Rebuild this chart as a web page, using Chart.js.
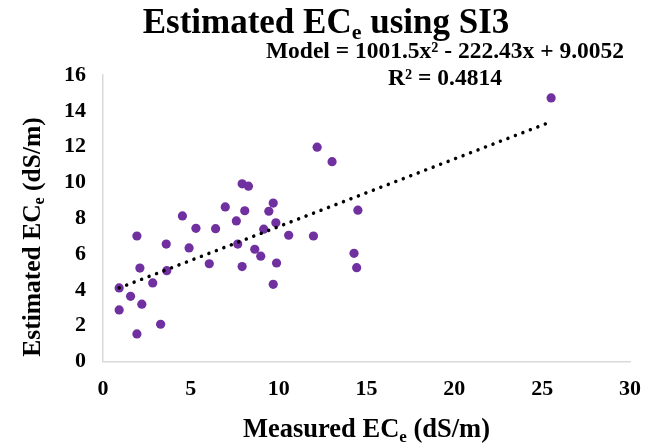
<!DOCTYPE html>
<html>
<head>
<meta charset="utf-8">
<script src="https://cdn.jsdelivr.net/npm/chart.js@4"></script>
<style>
  html, body { margin: 0; padding: 0; background: #fff; }
  #wrap { width: 659px; height: 448px; }
</style>
</head>
<body>
<div id="wrap"><canvas id="chart"></canvas></div>
<script>
// values
const measuredEC = [0.92, 0.92, 1.57, 1.93, 2.10, 2.21, 1.93, 2.83, 3.28, 3.60,
  3.63, 4.52, 4.90, 5.29, 6.05, 6.41, 6.96, 7.59, 7.67, 7.92,
  8.28, 8.07, 7.92, 8.64, 8.98, 9.15, 9.44, 9.69, 9.84, 9.88,
  9.69, 10.57, 11.98, 12.19, 13.04, 14.51, 14.29, 14.44, 25.51];
const estimatedEC = [4.11, 2.88, 3.64, 7.01, 5.22, 3.20, 1.54, 4.39, 2.08, 6.56,
  5.07, 8.13, 6.34, 7.44, 5.46, 7.42, 8.63, 7.85, 6.56, 9.92,
  9.79, 8.42, 5.30, 6.27, 5.88, 7.39, 8.39, 8.85, 7.75, 5.50,
  4.31, 7.05, 7.01, 11.97, 11.16, 8.45, 6.04, 5.24, 14.72];
const trendX = [0.92, 25.19];
const trendY = [4.11, 13.27];

const titleText = [['Estimated EC', ''], ['e', 'sub'], [' using SI3', '']];
const modelText = [['Model = 1001.5x\u00b2 - 222.43x + 9.0052', '']];
const r2Text = [['R\u00b2 = 0.4814', '']];
const xTitle = [['Measured EC', ''], ['e', 'sub'], [' (dS/m)', '']];
const yTitle = [['Estimated EC', ''], ['e', 'sub'], [' (dS/m)', '']];

const serif = "'Liberation Serif', 'Times New Roman', serif";

function toPoints(xs, ys) {
  return xs.map((x, i) => ({ x: x, y: ys[i] }));
}

// draws text pieces, subscripts smaller and lower, centred on x
function drawRich(ctx, parts, x, y, size) {
  const fontFor = (mode) => 'bold ' + (mode === 'sub' ? Math.round(size * 0.63) : size) + 'px ' + serif;
  let total = 0;
  parts.forEach(([t, mode]) => {
    ctx.font = fontFor(mode);
    total += ctx.measureText(t).width;
  });
  let cx = x - total / 2;
  ctx.textAlign = 'left';
  ctx.textBaseline = 'alphabetic';
  ctx.fillStyle = '#000';
  parts.forEach(([t, mode]) => {
    ctx.font = fontFor(mode);
    ctx.fillText(t, cx, mode === 'sub' ? y + size * 0.17 : y);
    cx += ctx.measureText(t).width;
  });
}

const chartContext = document.getElementById('chart');

new Chart(chartContext, {
  type: 'scatter',
  data: {
    datasets: [
      {
        type: 'line',
        label: 'Trend',
        data: toPoints(trendX, trendY),
        borderColor: '#000',
        borderWidth: 3.5,
        borderDash: [0.01, 8],
        borderCapStyle: 'round',
        pointRadius: 0,
        fill: false
      },
      {
        label: 'Estimated ECe',
        data: toPoints(measuredEC, estimatedEC),
        backgroundColor: '#7030A0',
        borderColor: '#7030A0',
        pointRadius: 4.6,
        borderWidth: 0
      }
    ]
  },
  options: {
    responsive: true,
    maintainAspectRatio: false,
    animation: false,
    layout: {
      padding: { left: 0, right: 29, top: 75, bottom: 0 }
    },
    scales: {
      x: {
        type: 'linear',
        min: 0,
        max: 30,
        afterFit: (scale) => { scale.height = 86.5; },
        ticks: {
          stepSize: 5,
          padding: 15,
          color: '#000',
          font: { family: serif, size: 22, weight: 'bold' }
        },
        grid: { color: 'transparent', drawTicks: false },
        border: { color: '#d9d9d9', width: 1.5 }
      },
      y: {
        min: 0,
        max: 16,
        afterFit: (scale) => { scale.width = 103; },
        ticks: {
          stepSize: 2,
          padding: 17,
          color: '#000',
          font: { family: serif, size: 22, weight: 'bold' }
        },
        grid: { color: 'transparent', drawTicks: false },
        border: { color: '#d9d9d9', width: 1.5 }
      }
    },
    plugins: {
      legend: { display: false },
      title: { display: false },
      tooltip: { enabled: false }
    }
  },
  plugins: [
    {
      afterDraw: function (chart) {
        const ctx = chart.ctx;
        ctx.save();
        drawRich(ctx, titleText, 326, 33, 35);
        drawRich(ctx, modelText, 445, 58, 23.5);
        drawRich(ctx, r2Text, 445, 85, 23.5);
        drawRich(ctx, xTitle, 366.5, 437, 26.5);
        ctx.translate(40, 237);
        ctx.rotate(-Math.PI / 2);
        drawRich(ctx, yTitle, 0, 0, 25.5);
        ctx.restore();
      }
    }
  ]
});
</script>
</body>
</html>
